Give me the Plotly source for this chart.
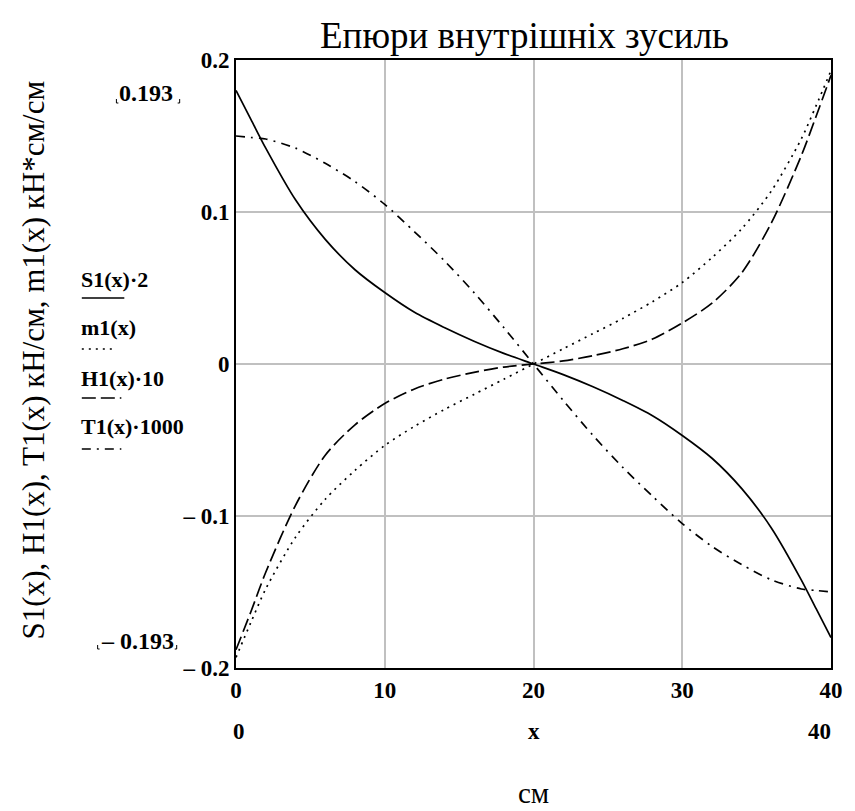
import plotly.graph_objects as go

# ---------------- data ----------------
x_vals = [0, 1, 2, 4, 6, 8, 10, 12, 14, 16, 18, 20,
          22, 24, 26, 28, 30, 32, 34, 36, 38, 39, 40]

s1_times2 = [0.180, 0.161, 0.142, 0.108, 0.082, 0.062, 0.047, 0.034, 0.024, 0.015, 0.007, 0.0,
             -0.007, -0.015, -0.024, -0.034, -0.047, -0.062, -0.082, -0.108, -0.142, -0.161, -0.180]

m1 = [-0.193, -0.170, -0.148, -0.114, -0.089, -0.070, -0.0536, -0.041, -0.030, -0.020, -0.010, 0.0,
      0.010, 0.020, 0.030, 0.041, 0.0536, 0.070, 0.089, 0.114, 0.148, 0.170, 0.193]

h1_times10 = [-0.188, -0.163, -0.137, -0.093, -0.060, -0.040, -0.026, -0.0164, -0.010, -0.0055, -0.002, 0.0,
              0.002, 0.0055, 0.010, 0.0164, 0.027, 0.040, 0.060, 0.093, 0.137, 0.163, 0.190]

t1_times1000 = [0.150, 0.149, 0.148, 0.142, 0.132, 0.120, 0.105, 0.087, 0.068, 0.047, 0.024, 0.0,
                -0.024, -0.047, -0.068, -0.087, -0.105, -0.120, -0.132, -0.142, -0.148, -0.149, -0.150]

x_ticks = [0, 10, 20, 30, 40]
x_tick_text = ["0", "10", "20", "30", "40"]
y_ticks = [-0.2, -0.1, 0, 0.1, 0.2]
y_tick_text = ["– 0.2", "– 0.1", "0", "0.1", "0.2"]

legend_labels = ["S1(x)·2", "m1(x)", "H1(x)·10", "T1(x)·1000"]

title_text = "Епюри внутрішніх зусиль"
y_title = "S1(x), H1(x), T1(x) кН/см, m1(x) кН*см/см"
x_unit = "см"

# ---------------- layout geometry ----------------
W, H = 855, 811
L, R, T, B = 236, 838, 60, 668
FONT = "Liberation Serif, Times New Roman, serif"


def px(xp):
    return (xp - L) / (R - L)


def py(yp):
    return (B - yp) / (B - T)


styles = [
    dict(dash="solid", width=1.7),
    dict(dash="2px,5px", width=1.7),
    dict(dash="14px,5px", width=1.7),
    dict(dash="9px,6px,2px,6px", width=1.7),
]
series = [s1_times2, m1, h1_times10, t1_times1000]

fig = go.Figure()
for ys, st, name in zip(series, styles, legend_labels):
    fig.add_trace(go.Scatter(
        x=x_vals, y=ys, mode="lines", name=name,
        line=dict(color="black", width=st["width"], dash=st["dash"], shape="spline", smoothing=0.8),
        showlegend=False,
    ))

annotations = []
shapes = []

# title
annotations.append(dict(text=title_text, x=px(528), y=py(36), xref="paper", yref="paper",
                        showarrow=False, font=dict(family=FONT, size=37, color="black"),
                        xanchor="center", yanchor="middle"))
# y title
annotations.append(dict(text=y_title, x=px(31), y=py(360), xref="paper", yref="paper",
                        showarrow=False, textangle=-90,
                        font=dict(family=FONT, size=31, color="black"),
                        xanchor="center", yanchor="middle"))
# x-range labels under axis
for txt, xp in [("0", 239), ("x", 537), ("40", 826)]:
    annotations.append(dict(text="<b>%s</b>" % txt, x=px(xp), y=py(731), xref="paper", yref="paper",
                            showarrow=False, font=dict(family=FONT, size=23, color="black"),
                            xanchor="center", yanchor="middle"))
# unit
annotations.append(dict(text=x_unit, x=px(537), y=py(793), xref="paper", yref="paper",
                        showarrow=False, font=dict(family=FONT, size=29, color="black"),
                        xanchor="center", yanchor="middle"))
# y-range limit labels
annotations.append(dict(text="<b>0.193</b>", x=px(145), y=py(93), xref="paper", yref="paper",
                        showarrow=False, font=dict(family=FONT, size=24, color="black"),
                        xanchor="center", yanchor="middle"))
annotations.append(dict(text="<b>– 0.193</b>", x=px(136), y=py(641), xref="paper", yref="paper",
                        showarrow=False, font=dict(family=FONT, size=24, color="black"),
                        xanchor="center", yanchor="middle"))
for (x0, y0, x1, y1) in [(115, 99, 115, 103), (115, 103, 117, 103), (177, 103, 179, 103), (179, 99, 179, 103),
                         (96, 645, 96, 649), (96, 649, 98, 649), (174, 649, 176, 649), (176, 645, 176, 649)]:
    shapes.append(dict(type="line", xref="paper", yref="paper", x0=px(x0), y0=py(y0), x1=px(x1), y1=py(y1),
                       line=dict(color="black", width=1)))

# legend (text above a line sample)
leg_text_y = [279, 327, 378, 426]
leg_line_y = [298, 349, 398, 449]
leg_line_x1 = [123, 115, 120, 120]
for lab, ty, ly, lx1, st in zip(legend_labels, leg_text_y, leg_line_y, leg_line_x1, styles):
    annotations.append(dict(text="<b>%s</b>" % lab, x=px(77), y=py(ty), xref="paper", yref="paper",
                            showarrow=False, font=dict(family=FONT, size=22, color="black"),
                            xanchor="left", yanchor="middle"))
    shapes.append(dict(type="line", xref="paper", yref="paper", x0=px(80), y0=py(ly), x1=px(lx1), y1=py(ly),
                       line=dict(color="black", width=1.7, dash=st["dash"])))

fig.update_layout(
    width=W, height=H,
    margin=dict(l=L, r=W - R, t=T, b=H - B),
    paper_bgcolor="white", plot_bgcolor="white",
    annotations=annotations, shapes=shapes,
    xaxis=dict(range=[0, 40], tickvals=x_ticks, ticktext=["<b>%s</b>" % t for t in x_tick_text],
               showgrid=True, gridcolor="#c0c0c0", gridwidth=2, zeroline=False,
               showline=True, linecolor="black", linewidth=2, mirror=True, ticks="",
               tickfont=dict(family=FONT, size=23, color="black")),
    yaxis=dict(range=[-0.2, 0.2], tickvals=y_ticks, ticktext=["<b>%s</b>" % t for t in y_tick_text],
               showgrid=True, gridcolor="#c0c0c0", gridwidth=2, zeroline=False,
               showline=True, linecolor="black", linewidth=2, mirror=True, ticks="",
               tickfont=dict(family=FONT, size=23, color="black")),
)

fig.write_html("out.html")
